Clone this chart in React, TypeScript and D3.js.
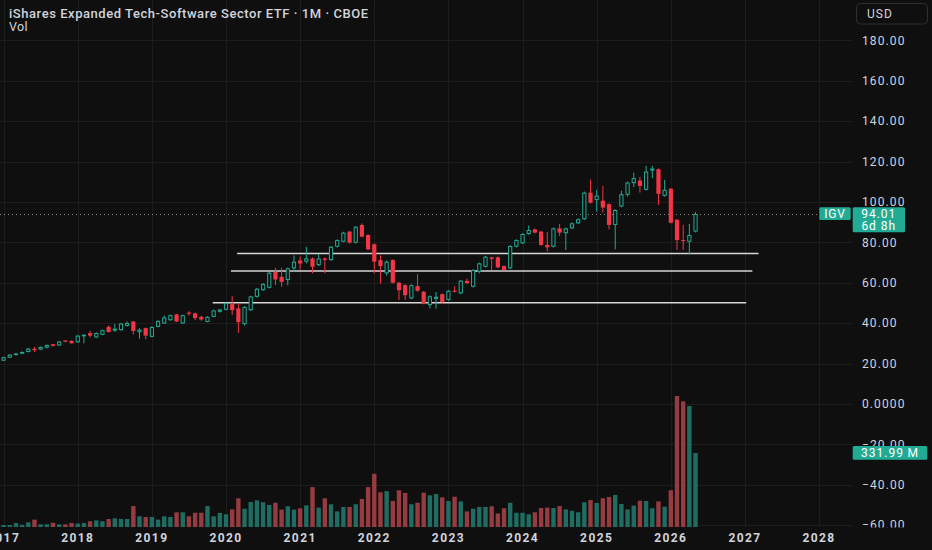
import React from "react";
import * as d3 from "d3";

// ---- Data (monthly IGV, Jan 2017 .. May 2026) ----
const startYear = 2017;
const open = [
  21.4, 22.9, 24.4, 24.9, 25.7, 27.3, 26.9, 27.9, 29.5, 28.9, 31.4, 31.2,
  30.5, 33.5, 35.0, 32.9, 34.2, 38.1, 36.3, 36.5, 38.6, 40.8, 35.5, 37.5,
  33.2, 38.1, 39.8, 41.4, 44.3, 39.8, 45.2, 44.8, 43.1, 40.6, 43.1, 45.6,
  46.6, 49.4, 47.3, 39.5, 46.4, 53.0, 56.3, 57.5, 65.4, 62.9, 61.3, 67.1,
  71.0, 70.4, 72.0, 68.7, 72.0, 71.2, 77.8, 80.3, 85.3, 79.8, 88.6, 83.6,
  79.0, 71.2, 64.6, 71.2, 60.0, 58.8, 52.2, 58.3, 55.5, 48.9, 52.0, 54.3,
  51.4, 56.0, 54.7, 60.9, 58.0, 65.4, 67.9, 72.5, 72.6, 68.2, 67.1, 77.8,
  79.5, 84.1, 86.4, 85.3, 78.7, 77.8, 86.9, 84.5, 86.9, 89.4, 91.4, 104.6,
  101.0, 100.6, 98.9, 88.6, 97.7, 103.5, 109.3, 110.6, 106.0, 115.5, 116.2, 103.0,
  106.5, 91.1, 81.1, 80.3, 85.3,
];
const close = [
  23.1, 24.4, 24.9, 25.7, 27.4, 26.6, 28.2, 29.1, 28.7, 30.9, 30.8, 30.0,
  33.8, 34.2, 33.8, 35.1, 36.5, 35.6, 37.2, 39.8, 40.1, 36.1, 36.8, 33.8,
  38.1, 41.1, 42.8, 43.9, 40.8, 43.9, 44.6, 42.5, 41.8, 43.1, 46.3, 46.7,
  49.9, 46.4, 40.5, 48.0, 53.2, 57.0, 59.3, 64.9, 61.6, 60.4, 67.1, 70.4,
  69.5, 72.0, 67.9, 72.0, 71.3, 77.8, 81.1, 84.8, 79.8, 87.7, 82.8, 76.5,
  70.4, 68.2, 70.4, 60.0, 56.3, 53.8, 58.8, 56.0, 49.7, 53.3, 53.0, 50.5,
  56.0, 55.5, 61.0, 59.8, 66.3, 69.6, 72.9, 71.8, 67.6, 66.3, 78.2, 81.1,
  84.1, 86.1, 84.8, 78.7, 77.5, 86.9, 84.8, 86.9, 89.4, 91.4, 104.6, 99.6,
  103.1, 97.2, 88.6, 96.0, 103.8, 109.6, 111.8, 107.9, 115.0, 116.5, 104.0, 106.0,
  89.7, 81.1, 80.6, 83.6, 94.01,
];
const high = [
  23.4, 24.6, 25.2, 26.0, 27.6, 28.2, 28.4, 29.4, 29.7, 31.1, 31.6, 31.5,
  34.0, 34.5, 36.2, 35.4, 36.8, 38.9, 39.6, 40.0, 40.8, 41.0, 37.5, 37.8,
  38.4, 41.4, 43.8, 44.2, 44.6, 44.2, 45.9, 45.3, 43.6, 43.4, 46.6, 47.0,
  50.3, 53.3, 49.4, 48.4, 53.5, 57.4, 59.8, 65.3, 67.4, 67.4, 67.5, 73.5,
  73.0, 77.8, 72.5, 74.2, 72.5, 78.2, 81.5, 85.2, 85.6, 88.0, 89.4, 84.0,
  79.4, 73.5, 71.0, 71.6, 60.4, 59.2, 59.2, 64.2, 55.9, 53.7, 55.4, 54.7,
  56.4, 58.2, 61.4, 62.0, 66.7, 70.0, 73.3, 72.9, 73.0, 68.6, 78.6, 81.5,
  84.5, 88.3, 86.8, 85.7, 85.0, 87.3, 89.1, 87.3, 89.8, 91.8, 105.1, 111.0,
  106.0, 107.9, 99.3, 96.4, 105.5, 110.0, 114.5, 112.3, 117.9, 117.9, 116.6, 110.9,
  106.9, 91.5, 88.6, 89.1, 95.0,
];
const low = [
  21.2, 22.7, 24.1, 24.6, 25.5, 25.7, 26.6, 27.4, 28.5, 28.7, 30.5, 29.9,
  30.3, 30.0, 32.9, 32.7, 34.0, 35.3, 35.6, 36.2, 38.3, 34.3, 32.3, 31.9,
  33.0, 37.9, 39.6, 41.2, 40.5, 39.6, 43.6, 41.4, 41.2, 40.4, 42.9, 45.2,
  46.3, 44.0, 35.1, 38.8, 46.0, 52.6, 56.0, 57.2, 58.8, 58.0, 58.7, 65.5,
  66.5, 69.5, 64.6, 68.2, 64.6, 70.8, 77.4, 80.0, 79.4, 79.4, 82.4, 76.1,
  64.6, 59.6, 63.5, 59.6, 51.4, 51.4, 51.8, 55.5, 49.3, 47.2, 47.2, 49.4,
  51.0, 55.1, 54.3, 59.4, 57.6, 64.6, 67.5, 66.3, 67.2, 65.9, 66.7, 77.4,
  79.1, 83.7, 84.4, 78.3, 75.5, 77.4, 83.1, 76.2, 86.5, 89.0, 91.0, 99.2,
  95.2, 94.7, 86.4, 76.5, 97.3, 102.6, 107.3, 104.6, 105.6, 111.8, 98.5, 102.6,
  89.3, 76.2, 76.2, 74.0, 84.9,
];
// volume in millions of shares
const volume = [
  9, 9, 18, 10, 21, 33, 12, 12, 19, 12, 12, 18,
  15, 18, 26, 30, 26, 36, 39, 36, 36, 94, 48, 45,
  45, 33, 48, 45, 66, 66, 48, 64, 64, 94, 48, 63,
  57, 79, 129, 82, 112, 120, 111, 99, 109, 78, 93, 78,
  84, 97, 179, 87, 129, 102, 70, 90, 90, 102, 126, 179,
  239, 156, 161, 117, 165, 153, 102, 109, 154, 142, 148, 133,
  117, 136, 115, 70, 82, 90, 90, 93, 61, 84, 109, 64,
  64, 57, 66, 85, 87, 85, 94, 79, 73, 66, 111, 121,
  108, 129, 135, 144, 103, 79, 96, 118, 117, 84, 115, 91,
  165, 588, 564, 543, 331.99,
];
const years = [2017, 2018, 2019, 2020, 2021, 2022, 2023, 2024, 2025, 2026, 2027, 2028];
const priceTicks = [180, 160, 140, 120, 100, 80, 60, 40, 20, 0, -20, -40, -60];
const priceTickLabels = ["180.00", "160.00", "140.00", "120.00", "100.00", "80.00", "60.00", "40.00", "20.00", "0.0000", "\u221220.00", "\u221240.00", "\u221260.00"];
// horizontal support lines drawn on chart: price, start month index, end month index
const levelPrices = [74.4, 65.8, 50.1];
const levelStarts = [37.8, 36.8, 33.85];
const levelEnds = [122.2, 121.2, 120.2];

const title = "iShares Expanded Tech-Software Sector ETF \u00b7 1M \u00b7 CBOE";
const lastPriceLabel = "94.01";
const countdownLabel = "6d 8h";
const symbolLabel = "IGV";
const lastVolumeLabel = "331.99\u2009M";

// ---- Styles ----
const BG = "#0f0f0f";
const GRID = "#1d1d1d";
const UP = "#22ab94";
const DOWN = "#f23645";
const VOL_UP = "#1f6d62";
const VOL_DOWN = "#963b40";
const TEXT = "#d1d4dc";
const FONT = "Roboto, 'Noto Sans', sans-serif";

export default function App() {
  const W = 932;
  const H = 550;
  const plotRight = 852;
  const paneBottom = 527;

  const x = d3.scaleLinear().domain([0, 132]).range([3.6, 819.1]);
  const y = d3.scaleLinear().domain([-60, 180]).range([525.1, 40.3]);
  const yVol = d3.scaleLinear().domain([0, d3.max(volume) as number]).range([paneBottom, 396]);

  const bodyW = 4.2;
  const volW = 4.4;
  const lastIdx = close.length - 1;
  const lastY = y(close[lastIdx]);

  return (
    <div style={{ position: "fixed", left: 0, top: 0, width: W, height: H, background: BG }}>
      <svg width={W} height={H} style={{ display: "block", fontFamily: FONT }}>
        <defs>
          <clipPath id="pane">
            <rect x={0} y={0} width={plotRight} height={paneBottom} />
          </clipPath>
          <clipPath id="axis">
            <rect x={plotRight} y={0} width={W - plotRight} height={paneBottom + 0.5} />
          </clipPath>
        </defs>
        <rect x={0} y={0} width={W} height={H} fill={BG} />

        {/* grid */}
        <g clipPath="url(#pane)">
          {priceTicks.map((p) => (
            <line key={"h" + p} x1={0} x2={plotRight} y1={Math.round(y(p)) + 0.5} y2={Math.round(y(p)) + 0.5} stroke={GRID} strokeWidth={1} />
          ))}
          {years.map((yr) => {
            const xx = Math.round(x((yr - startYear) * 12)) + 0.5;
            return <line key={"v" + yr} x1={xx} x2={xx} y1={0} y2={paneBottom} stroke={GRID} strokeWidth={1} />;
          })}
        </g>

        {/* volume */}
        <g clipPath="url(#pane)">
          {volume.map((v, i) => (
            <rect
              key={"vol" + i}
              x={x(i) - volW / 2}
              y={yVol(v)}
              width={volW}
              height={paneBottom - yVol(v)}
              fill={close[i] >= open[i] ? VOL_UP : VOL_DOWN}
            />
          ))}
        </g>

        {/* support lines */}
        <g clipPath="url(#pane)">
          {levelPrices.map((p, i) => (
            <line
              key={"lvl" + i}
              x1={x(levelStarts[i])}
              x2={x(levelEnds[i])}
              y1={y(p)}
              y2={y(p)}
              stroke="#d6d6d6"
              strokeWidth={1.5}
            />
          ))}
        </g>

        {/* last price line */}
        <line x1={0} x2={819} y1={Math.round(lastY) + 0.5} y2={Math.round(lastY) + 0.5} stroke="#7d8a88" strokeWidth={1} strokeDasharray="1 3" />

        {/* candles */}
        <g clipPath="url(#pane)">
          {close.map((c, i) => {
            const o = open[i];
            const up = c >= o;
            const col = up ? UP : DOWN;
            const cx = x(i);
            const top = y(Math.max(o, c));
            const bot = y(Math.min(o, c));
            const bh = Math.max(1, bot - top);
            return (
              <g key={"c" + i}>
                <line x1={cx} x2={cx} y1={y(high[i])} y2={y(low[i])} stroke={col} strokeWidth={1} />
                {up ? (
                  <rect x={cx - bodyW / 2 + 0.5} y={top + 0.5} width={bodyW - 1} height={Math.max(0.5, bh - 1)} fill={BG} stroke={col} strokeWidth={1} />
                ) : (
                  <rect x={cx - bodyW / 2} y={top} width={bodyW} height={bh} fill={col} />
                )}
              </g>
            );
          })}
        </g>

        {/* price axis labels */}
        <g clipPath="url(#axis)">
          {priceTicks.map((p, i) => (
            <text key={"pl" + p} x={862} y={y(p)} dy="0.36em" fill={TEXT} fontSize={12} letterSpacing={1.1}>
              {priceTickLabels[i]}
            </text>
          ))}
        </g>

        {/* time axis labels */}
        {years.map((yr) => (
          <text
            key={"yl" + yr}
            x={x((yr - startYear) * 12)}
            y={542}
            textAnchor="middle"
            fill={TEXT}
            fontSize={12}
            fontWeight={700}
            letterSpacing={1.4}
          >
            {yr}
          </text>
        ))}

        {/* title */}
        <text x={9} y={17.5} fill={TEXT} fontSize={13} fontWeight={500} letterSpacing={0.55}>
          {title}
        </text>
        <text x={9} y={30.5} fill={TEXT} fontSize={12.5} letterSpacing={0.4}>
          Vol
        </text>

        {/* USD button */}
        <rect x={856.5} y={3.5} width={71} height={20.5} rx={4} fill={BG} stroke="#2f2f2f" strokeWidth={1} />
        <text x={867} y={18} fill={TEXT} fontSize={12} letterSpacing={1}>USD</text>

        {/* last price labels */}
        <rect x={819.3} y={207.3} width={31.4} height={12.7} rx={1.5} fill={UP} />
        <text x={835} y={213.8} dy="0.36em" textAnchor="middle" fill="#ffffff" fontSize={12} letterSpacing={0.8}>
          {symbolLabel}
        </text>
        <rect x={852.7} y={207.3} width={52.3} height={25} rx={1.5} fill={UP} />
        <text x={878.8} y={213.6} dy="0.36em" textAnchor="middle" fill="#ffffff" fontSize={12} letterSpacing={1}>
          {lastPriceLabel}
        </text>
        <text x={878.8} y={226} dy="0.36em" textAnchor="middle" fill="#ffffff" fontSize={12} letterSpacing={1}>
          {countdownLabel}
        </text>

        {/* last volume label */}
        <rect x={852.7} y={446} width={74.6} height={13.7} rx={1.5} fill={UP} />
        <text x={890} y={452.9} dy="0.36em" textAnchor="middle" fill="#ffffff" fontSize={12} letterSpacing={1}>
          {lastVolumeLabel}
        </text>
      </svg>
    </div>
  );
}
